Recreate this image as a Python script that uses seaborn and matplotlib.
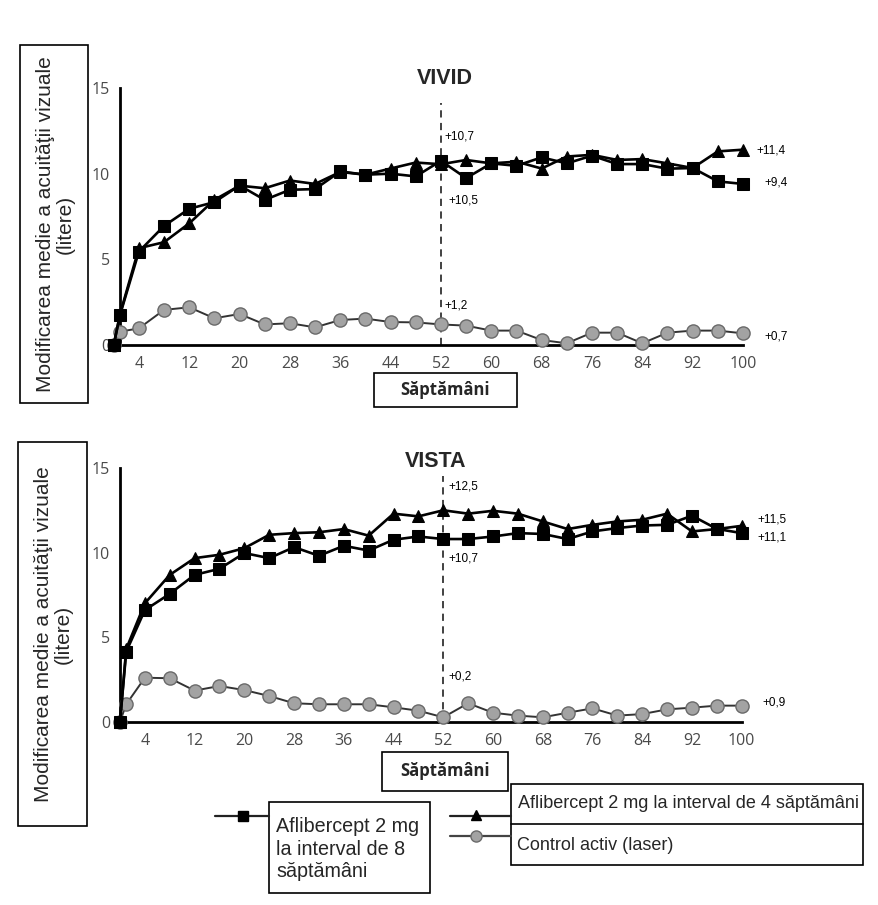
import matplotlib
matplotlib.use("Agg")
import matplotlib.pyplot as plt
from matplotlib.patches import Rectangle
from matplotlib.lines import Line2D
import seaborn as sns

# weeks of follow-up (0, 1, then every 4 weeks)
weeks = [0, 1] + list(range(4, 101, 4))

vivid_8w = [0, 1.75, 5.45, 6.95, 7.95, 8.34, 9.31, 8.47, 9.06, 9.1, 10.13, 9.94, 10.0, 9.84,
            10.75, 9.74, 10.6, 10.46, 10.95, 10.6, 11.05, 10.56, 10.56, 10.29, 10.33, 9.55, 9.4]
vivid_4w = [0, 1.8, 5.65, 6.0, 7.1, 8.47, 9.3, 9.15, 9.6, 9.4, 10.1, 9.94, 10.3, 10.65,
            10.55, 10.8, 10.6, 10.7, 10.3, 11.0, 11.1, 10.8, 10.85, 10.6, 10.33, 11.3, 11.4]
vivid_laser = [0, 0.78, 0.97, 2.05, 2.2, 1.56, 1.81, 1.2, 1.27, 1.03, 1.46, 1.54, 1.34, 1.32,
               1.2, 1.13, 0.84, 0.84, 0.29, 0.1, 0.72, 0.72, 0.1, 0.72, 0.84, 0.84, 0.68]

vista_8w = [0, 4.14, 6.6, 7.56, 8.68, 9.04, 9.97, 9.67, 10.32, 9.81, 10.4, 10.12, 10.76, 10.95,
            10.8, 10.8, 10.95, 11.15, 11.1, 10.8, 11.25, 11.45, 11.6, 11.64, 12.18, 11.4, 11.15]
vista_4w = [0, 4.3, 7.0, 8.68, 9.67, 9.87, 10.26, 11.05, 11.15, 11.2, 11.39, 11.0, 12.3, 12.14,
            12.5, 12.3, 12.47, 12.3, 11.84, 11.39, 11.64, 11.84, 11.94, 12.3, 11.25, 11.39, 11.58]
vista_laser = [0, 1.03, 2.6, 2.57, 1.84, 2.11, 1.87, 1.52, 1.09, 1.03, 1.03, 1.03, 0.85, 0.65,
               0.26, 1.09, 0.53, 0.36, 0.26, 0.53, 0.79, 0.36, 0.45, 0.73, 0.83, 0.95, 0.95]

# value labels: (week, y, text)
vivid_labels = [(52.6, 12.15, "+10,7"), (53.2, 8.46, "+10,5"), (52.6, 2.33, "+1,2"),
                (102.2, 11.38, "+11,4"), (103.4, 9.5, "+9,4"), (103.4, 0.47, "+0,7")]
vista_labels = [(52.8, 13.88, "+12,5"), (52.8, 9.62, "+10,7"), (52.8, 2.7, "+0,2"),
                (102.5, 11.93, "+11,5"), (102.5, 10.92, "+11,1"), (103.4, 1.16, "+0,9")]

ylabel_text = "Modificarea medie a acuităţii vizuale\n(litere)"
xlabel_text = "Săptămâni"
leg_8w = "Aflibercept 2 mg\nla interval de 8\nsăptămâni"
leg_4w = "Aflibercept 2 mg la interval de 4 săptămâni"
leg_laser = "Control activ (laser)"

sns.set_style("white")
plt.rcParams["font.family"] = ["Liberation Sans", "DejaVu Sans"]

W, H = 879, 905
fig = plt.figure(figsize=(W / 100, H / 100), dpi=100)


def fx(x):
    return x / W


def fy(y):
    return 1 - y / H


def draw_panel(ax, sq, tri, circ, labels, dash_top, x0):
    sns.lineplot(x=weeks, y=circ, ax=ax, color="#333333", lw=1.4, marker="o", markersize=9.5,
                 markerfacecolor="#a3a3a3", markeredgecolor="#6a6a6a", markeredgewidth=1,
                 estimator=None, clip_on=False, zorder=3)
    sns.lineplot(x=weeks, y=tri, ax=ax, color="black", lw=1.9, marker="^", markersize=9,
                 markerfacecolor="black", markeredgecolor="black",
                 estimator=None, clip_on=False, zorder=4)
    sns.lineplot(x=weeks, y=sq, ax=ax, color="black", lw=1.9, marker="s", markersize=8.5,
                 markerfacecolor="black", markeredgecolor="black",
                 estimator=None, clip_on=False, zorder=5)
    ax.plot([52, 52], [0, dash_top], color="#333333", lw=1.3, ls=(0, (4, 3)), zorder=2,
            clip_on=False)
    for x, y, t in labels:
        ax.text(x, y, t, fontsize=8.5, ha="left", va="center", color="black")
    ax.set_xlim(x0, 100)
    ax.set_ylim(0, 15)
    ax.set_xticks(range(4, 101, 8))
    ax.set_xticks(range(8, 101, 8), minor=True)
    ax.set_yticks([0, 5, 10, 15])
    ax.tick_params(axis="x", which="both", direction="in", length=6, width=1.5,
                   colors="black", pad=8)
    ax.tick_params(axis="y", direction="in", length=15, width=2, colors="black", pad=7)
    for lab in ax.get_xticklabels() + ax.get_yticklabels():
        lab.set_fontfamily("Open Sans")
        lab.set_fontsize(11.5)
        lab.set_color("#4a4a4a")
    for s in ["top", "right"]:
        ax.spines[s].set_visible(False)
    for s in ["left", "bottom"]:
        ax.spines[s].set_linewidth(2)
        ax.spines[s].set_color("black")
    ax.set_xlabel("")
    ax.set_ylabel("")
    ax.patch.set_alpha(0)


ax1 = fig.add_axes([fx(120), fy(345), 623 / W, 257 / H])
draw_panel(ax1, vivid_8w, vivid_4w, vivid_laser, vivid_labels, 14.1, 1)
ax2 = fig.add_axes([fx(120), fy(721.7), 621.7 / W, 253.7 / H])
draw_panel(ax2, vista_8w, vista_4w, vista_laser, vista_labels, 14.5, 0)

fig.text(fx(445), fy(79), "VIVID", fontsize=15.5, fontweight="bold", ha="center", va="center")
fig.text(fx(436), fy(461), "VISTA", fontsize=15.5, fontweight="bold", ha="center", va="center")


def box(x0, y0, x1, y1, lw=1.2):
    fig.patches.append(Rectangle((fx(x0), fy(y1)), (x1 - x0) / W, (y1 - y0) / H,
                                 transform=fig.transFigure, fill=False,
                                 edgecolor="black", lw=lw))


# y-axis label boxes
box(20, 45, 88, 403)
fig.text(fx(55), fy(224), ylabel_text, rotation=90, fontsize=15, ha="center",
         va="center", multialignment="center", linespacing=1.05)
box(18, 442, 87, 826)
fig.text(fx(53), fy(634), ylabel_text, rotation=90, fontsize=15, ha="center",
         va="center", multialignment="center", linespacing=1.05)

# x-axis label boxes
box(374, 373, 517, 407)
fig.text(fx(445.5), fy(390), xlabel_text, fontsize=12, fontweight="bold",
         family="Open Sans", ha="center", va="center")
box(382, 752, 508, 791)
fig.text(fx(445), fy(771.5), xlabel_text, fontsize=12, fontweight="bold",
         family="Open Sans", ha="center", va="center")

# legend
fig.lines.append(Line2D([fx(215), fx(269)], [fy(816), fy(816)], transform=fig.transFigure,
                        color="#222222", lw=1.6, marker=None))
fig.lines.append(Line2D([fx(243)], [fy(816)], transform=fig.transFigure, color="black",
                        marker="s", markersize=7, lw=0))
box(269, 802, 430, 893)
fig.text(fx(276), fy(849), leg_8w, fontsize=14.2, ha="left", va="center", linespacing=1.22)

fig.lines.append(Line2D([fx(450), fx(511)], [fy(816), fy(816)], transform=fig.transFigure,
                        color="#222222", lw=1.6))
fig.lines.append(Line2D([fx(476)], [fy(815)], transform=fig.transFigure, color="black",
                        marker="^", markersize=7.5, lw=0))
fig.lines.append(Line2D([fx(450), fx(511)], [fy(836), fy(836)], transform=fig.transFigure,
                        color="#444444", lw=1.6))
fig.lines.append(Line2D([fx(476)], [fy(836)], transform=fig.transFigure, marker="o",
                        markersize=8, markerfacecolor="#a3a3a3", markeredgecolor="#6a6a6a",
                        lw=0))
box(511, 784, 863, 865)
fig.lines.append(Line2D([fx(511), fx(863)], [fy(824), fy(824)], transform=fig.transFigure,
                        color="black", lw=1.2))
fig.text(fx(518), fy(803.5), leg_4w, fontsize=13, ha="left", va="center")
fig.text(fx(517), fy(845.5), leg_laser, fontsize=13, ha="left", va="center")

fig.savefig("out.png", dpi=100)
